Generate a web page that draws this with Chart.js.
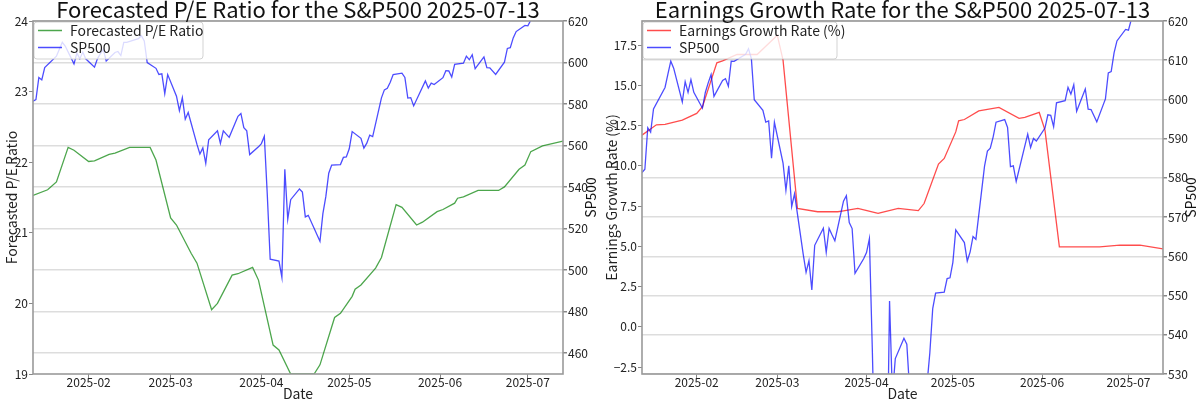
<!DOCTYPE html>
<html>
<head>
<meta charset="utf-8">
<script src="https://cdn.jsdelivr.net/npm/chart.js@4.4.1/dist/chart.umd.min.js"></script>
<style>
html, body { margin: 0; padding: 0; background: #fff; }
#wrap { position: relative; width: 1200px; height: 403px; }
.panel { position: absolute; top: 0; width: 600px; height: 403px; }
</style>
</head>
<body>
<div id="wrap">
  <div class="panel" style="left:0"><canvas id="peChart" width="600" height="403"></canvas></div>
  <div class="panel" style="left:600px"><canvas id="egChart" width="600" height="403"></canvas></div>
</div>
<script>
// SP500 closes (trading days)
const spDates = [
  '2025-01-13','2025-01-14','2025-01-15','2025-01-16','2025-01-17','2025-01-21','2025-01-22','2025-01-23','2025-01-24',
  '2025-01-27','2025-01-28','2025-01-29','2025-01-30','2025-01-31',
  '2025-02-03','2025-02-04','2025-02-05','2025-02-06','2025-02-07','2025-02-10','2025-02-11','2025-02-12','2025-02-13','2025-02-14',
  '2025-02-18','2025-02-19','2025-02-20','2025-02-21','2025-02-24','2025-02-25','2025-02-26','2025-02-27','2025-02-28',
  '2025-03-03','2025-03-04','2025-03-05','2025-03-06','2025-03-07','2025-03-10','2025-03-11','2025-03-12','2025-03-13','2025-03-14',
  '2025-03-17','2025-03-18','2025-03-19','2025-03-20','2025-03-21','2025-03-24','2025-03-25','2025-03-26','2025-03-27','2025-03-28','2025-03-31',
  '2025-04-01','2025-04-02','2025-04-03','2025-04-04','2025-04-07','2025-04-08','2025-04-09','2025-04-10','2025-04-11',
  '2025-04-14','2025-04-15','2025-04-16','2025-04-17','2025-04-21','2025-04-22','2025-04-23','2025-04-24','2025-04-25',
  '2025-04-28','2025-04-29','2025-04-30','2025-05-01','2025-05-02','2025-05-05','2025-05-06','2025-05-07','2025-05-08','2025-05-09',
  '2025-05-12','2025-05-13','2025-05-14','2025-05-15','2025-05-16','2025-05-19','2025-05-20','2025-05-21','2025-05-22','2025-05-23',
  '2025-05-27','2025-05-28','2025-05-29','2025-05-30','2025-06-02','2025-06-03','2025-06-04','2025-06-05','2025-06-06',
  '2025-06-09','2025-06-10','2025-06-11','2025-06-12','2025-06-13','2025-06-16','2025-06-17','2025-06-18','2025-06-20',
  '2025-06-23','2025-06-24','2025-06-25','2025-06-26','2025-06-27','2025-06-30','2025-07-01','2025-07-02','2025-07-03',
  '2025-07-07','2025-07-08','2025-07-09','2025-07-10','2025-07-11'
];
const spValues = [
  581.39,582.19,592.78,591.64,597.58,603.05,606.44,609.75,607.97,
  599.37,604.52,601.81,605.04,601.82,
  597.77,601.78,604.22,606.32,600.77,604.85,605.31,603.36,609.73,609.70,
  611.49,612.93,610.38,599.94,597.21,594.24,594.54,585.05,594.18,
  583.77,576.86,583.06,572.71,575.92,560.58,555.92,558.87,551.42,562.81,
  567.15,561.02,567.13,565.49,563.98,574.08,575.46,568.59,567.08,555.66,559.39,
  560.97,564.52,536.70,505.28,504.38,496.48,548.62,524.58,533.94,
  539.12,537.61,525.66,526.41,513.88,527.25,535.42,546.69,550.64,
  550.85,554.32,554.54,558.47,566.76,563.51,558.80,561.15,565.06,564.34,
  582.99,586.84,587.59,590.46,594.20,594.85,592.85,582.86,583.09,579.11,
  591.15,587.73,590.05,589.39,592.71,596.09,595.93,593.05,599.14,
  599.68,603.08,601.36,603.75,597.00,602.68,597.53,597.44,594.28,
  600.15,606.78,607.12,611.87,614.91,617.85,617.65,620.45,625.34,
  620.68,620.34,624.06,625.82,623.62
];

// Forecasted P/E ratio
const peDates = [
  '2025-01-13','2025-01-18','2025-01-21','2025-01-25','2025-01-27','2025-02-01','2025-02-03','2025-02-08','2025-02-10',
  '2025-02-15','2025-02-22','2025-02-24','2025-03-01','2025-03-03','2025-03-08','2025-03-10','2025-03-15','2025-03-17',
  '2025-03-22','2025-03-24','2025-03-29','2025-03-31','2025-04-05','2025-04-07','2025-04-11','2025-04-19','2025-04-21',
  '2025-04-26','2025-04-28','2025-05-02','2025-05-03','2025-05-05','2025-05-10','2025-05-12','2025-05-17','2025-05-19',
  '2025-05-24','2025-05-26','2025-05-31','2025-06-02','2025-06-06','2025-06-07','2025-06-09','2025-06-14','2025-06-21',
  '2025-06-23','2025-06-28','2025-06-30','2025-07-02','2025-07-06','2025-07-13'
];
const peValues = [
  21.53,21.61,21.72,22.21,22.17,22.01,22.02,22.11,22.13,
  22.21,22.21,22.03,21.21,21.11,20.71,20.57,19.91,20.00,
  20.40,20.42,20.51,20.33,19.41,19.34,19.00,19.00,19.13,
  19.80,19.86,20.10,20.20,20.26,20.50,20.65,21.40,21.36,
  21.11,21.15,21.30,21.33,21.42,21.49,21.51,21.60,21.60,
  21.65,21.90,21.96,22.15,22.23,22.30
];

// Earnings growth rate (%)
const egDates = [
  '2025-01-13','2025-01-18','2025-01-21','2025-01-27','2025-02-01','2025-02-03','2025-02-08','2025-02-10','2025-02-15',
  '2025-02-22','2025-03-01','2025-03-03','2025-03-08','2025-03-15','2025-03-22','2025-03-24','2025-03-29','2025-04-05',
  '2025-04-12','2025-04-19','2025-04-21','2025-04-26','2025-04-28','2025-05-02','2025-05-03','2025-05-05','2025-05-10',
  '2025-05-17','2025-05-24','2025-05-26','2025-05-31','2025-06-02','2025-06-07','2025-06-21','2025-06-28','2025-07-05',
  '2025-07-13'
];
const egValues = [
  11.91,12.55,12.58,12.84,13.26,13.67,16.40,16.52,16.92,
  16.92,18.12,16.57,7.36,7.15,7.15,7.21,7.36,7.05,
  7.36,7.22,7.66,10.11,10.46,12.11,12.80,12.88,13.42,
  13.63,12.95,13.01,13.32,12.22,4.97,4.97,5.07,5.07,
  4.84
];

const monthTicks = ['2025-02','2025-03','2025-04','2025-05','2025-06','2025-07'];
const peTicks = [19, 20, 21, 22, 23, 24];
const peSpTicks = [460, 480, 500, 520, 540, 560, 580, 600, 620];
const egTicks = [-2.5, 0, 2.5, 5, 7.5, 10, 12.5, 15, 17.5];
const egSpTicks = [530, 540, 550, 560, 570, 580, 590, 600, 610, 620];

const FONT = '"Noto Sans CJK JP", "Noto Sans", sans-serif';
Chart.defaults.font.family = FONT;
Chart.defaults.color = '#222';

const startMs = Date.parse('2025-01-13');
const toDay = d => (Date.parse(d) - startMs) / 86400000;
const toPoints = (dates, values) => dates.map((d, i) => ({ x: toDay(d), y: values[i] }));
const monthDays = monthTicks.map(m => toDay(m + '-01'));
const fmtMinus = s => String(s).replace('-', '\u2212');

const panelDecor = {
  id: 'panelDecor',
  afterDatasetsDraw(chart, args, o) {
    const { ctx, chartArea: a } = chart;
    ctx.save();
    ctx.beginPath();
    ctx.roundRect(a.left + 1, a.top + 1, o.legendWidth, 37, 3);
    ctx.fillStyle = 'rgba(255,255,255,0.8)';
    ctx.fill();
    ctx.strokeStyle = 'rgba(200,200,200,0.8)';
    ctx.lineWidth = 1;
    ctx.stroke();
    ctx.font = '14px ' + FONT;
    ctx.textBaseline = 'middle';
    o.items.forEach((it, i) => {
      const y = a.top + 9.5 + i * 17;
      ctx.strokeStyle = it.color;
      ctx.lineWidth = 1.5;
      ctx.beginPath();
      ctx.moveTo(a.left + 5, y);
      ctx.lineTo(a.left + 29, y);
      ctx.stroke();
      ctx.fillStyle = '#222';
      ctx.fillText(it.text, a.left + 37, y);
    });
    ctx.restore();
  },
  afterDraw(chart, args, o) {
    const { ctx, chartArea: a } = chart;
    ctx.save();
    ctx.strokeStyle = '#9a9a9a';
    ctx.lineWidth = 1.6;
    ctx.strokeRect(a.left, a.top, a.right - a.left, a.bottom - a.top);
    ctx.fillStyle = '#111';
    ctx.font = '22px ' + FONT;
    ctx.textAlign = 'center';
    ctx.textBaseline = 'alphabetic';
    ctx.fillText(o.title, (a.left + a.right) / 2, 18);
    // right axis label, reading bottom to top
    ctx.translate(591, (a.top + a.bottom) / 2);
    ctx.rotate(-Math.PI / 2);
    ctx.font = '14px ' + FONT;
    ctx.textBaseline = 'middle';
    ctx.fillText('SP500', 0, 0);
    ctx.restore();
  }
};

function makePanel(id, p) {
  return new Chart(document.getElementById(id), {
    type: 'line',
    data: {
      datasets: [
        { label: 'SP500', data: toPoints(spDates, spValues), yAxisID: 'y1', borderColor: 'rgba(0,0,255,0.7)', borderWidth: 1.3, pointRadius: 0, order: 0 },
        { label: p.name, data: p.data, yAxisID: 'y', borderColor: p.color, borderWidth: 1.3, pointRadius: 0, order: 1 }
      ]
    },
    options: {
      responsive: false,
      animation: false,
      layout: { padding: { top: 21, left: 0, right: 0, bottom: 0 } },
      plugins: {
        legend: { display: false },
        tooltip: { enabled: false },
        panelDecor: { title: p.title, legendWidth: p.legendWidth, items: [{ text: p.name, color: p.color }, { text: 'SP500', color: 'rgba(0,0,255,0.7)' }] }
      },
      scales: {
        x: {
          type: 'linear', min: 0, max: toDay('2025-07-13'),
          afterBuildTicks: s => { s.ticks = monthDays.map(v => ({ value: v })); },
          ticks: { font: { size: 12 }, padding: -3, maxRotation: 0, callback: (v, i) => monthTicks[i] },
          grid: { drawOnChartArea: false, tickLength: 4, tickColor: '#888' },
          border: { display: false },
          title: { display: true, text: 'Date', font: { size: 14 }, padding: { top: 0, bottom: 1 } },
          afterFit: s => { s.height = 29; }
        },
        y: {
          position: 'left', min: p.min, max: p.max,
          afterBuildTicks: s => { s.ticks = p.ticks.map(v => ({ value: v })); },
          ticks: { font: { size: 12 }, padding: 1, callback: v => fmtMinus(p.fmt(v)) },
          grid: { drawOnChartArea: false, tickLength: 4, tickColor: '#888' },
          border: { display: false },
          title: { display: true, text: p.axisTitle, font: { size: 14 }, padding: { top: 3, bottom: 0 } },
          afterFit: s => { s.width = p.leftWidth; }
        },
        y1: {
          position: 'right', min: p.spMin, max: 620,
          afterBuildTicks: s => { s.ticks = p.spTicks.map(v => ({ value: v })); },
          ticks: { font: { size: 12 }, padding: 1 },
          grid: { color: '#dddddd', lineWidth: 1.5, tickLength: 4, tickColor: '#888' },
          border: { display: false },
          afterFit: s => { s.width = 37; }
        }
      }
    },
    plugins: [panelDecor]
  });
}

makePanel('peChart', {
  title: 'Forecasted P/E Ratio for the S&P500 2025-07-13',
  name: 'Forecasted P/E Ratio', axisTitle: 'Forecasted P/E Ratio',
  data: toPoints(peDates, peValues), color: 'rgba(0,128,0,0.7)',
  min: 19, max: 24, ticks: peTicks, fmt: v => v.toFixed(0),
  spMin: 450, spTicks: peSpTicks, leftWidth: 33, legendWidth: 169
});

makePanel('egChart', {
  title: 'Earnings Growth Rate for the S&P500 2025-07-13',
  name: 'Earnings Growth Rate (%)', axisTitle: 'Earnings Growth Rate (%)',
  data: toPoints(egDates, egValues), color: 'rgba(255,0,0,0.7)',
  min: -2.93, max: 19.0, ticks: egTicks, fmt: v => v.toFixed(1),
  spMin: 530, spTicks: egSpTicks, leftWidth: 42, legendWidth: 194
});
</script>
</body>
</html>
